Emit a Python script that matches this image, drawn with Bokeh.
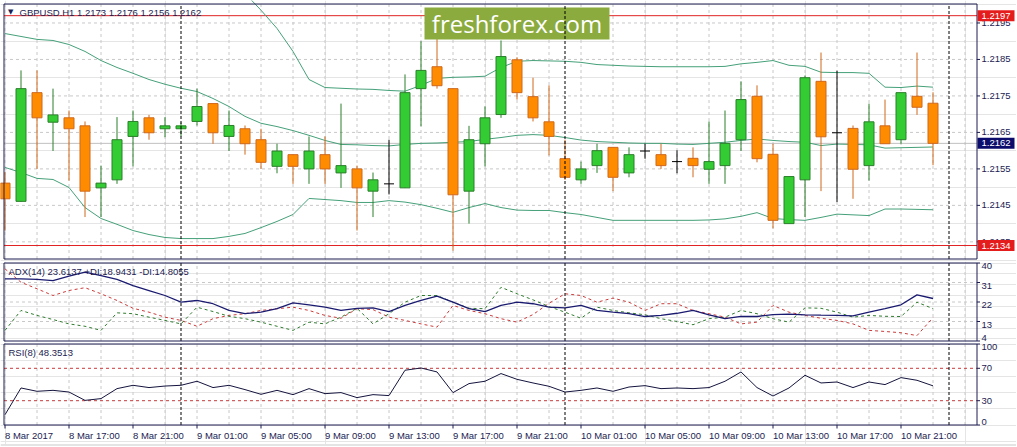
import pandas as pd
from bokeh.plotting import figure
from bokeh.layouts import column
from bokeh.models import Range1d, ColumnDataSource
from bokeh.core.properties import value
from bokeh.embed import file_html
from bokeh.resources import INLINE

# ---------------- data ----------------
symbol = "GBPUSD.H1"
first_bar_time = "2017-03-08 13:00"

opens = [1.21511, 1.21461, 1.21759, 1.21678, 1.21690, 1.21668, 1.21498, 1.21520, 1.21639, 1.21690,
         1.21660, 1.21660, 1.21680, 1.21729, 1.21639, 1.21660, 1.21630, 1.21557, 1.21589, 1.21550,
         1.21589, 1.21539, 1.21550, 1.21489, 1.21509, 1.21498, 1.21770, 1.21830, 1.21770, 1.21489,
         1.21619, 1.21699, 1.21849, 1.21748, 1.21679, 1.21578, 1.21520, 1.21559, 1.21609, 1.21539,
         1.21599, 1.21589, 1.21570, 1.21579, 1.21549, 1.21559, 1.21630, 1.21749, 1.21590, 1.21400,
         1.21520, 1.21790, 1.21649, 1.21661, 1.21559, 1.21668, 1.21630, 1.21749, 1.21730]
highs = [1.21541, 1.21820, 1.21820, 1.21770, 1.21710, 1.21680, 1.21559, 1.21692, 1.21710, 1.21698,
         1.21692, 1.21677, 1.21770, 1.21729, 1.21710, 1.21669, 1.21660, 1.21619, 1.21589, 1.21639,
         1.21639, 1.21729, 1.21559, 1.21540, 1.21630, 1.21809, 1.21900, 1.21908, 1.21770, 1.21668,
         1.21721, 1.21902, 1.21856, 1.21800, 1.21779, 1.21630, 1.21570, 1.21619, 1.21609, 1.21609,
         1.21619, 1.21619, 1.21601, 1.21609, 1.21680, 1.21710, 1.21790, 1.21779, 1.21619, 1.21529,
         1.21806, 1.21869, 1.21819, 1.21669, 1.21729, 1.21740, 1.21759, 1.21869, 1.21760]
lows = [1.21381, 1.21460, 1.21550, 1.21599, 1.21518, 1.21418, 1.21418, 1.21509, 1.21557, 1.21630,
        1.21637, 1.21639, 1.21669, 1.21619, 1.21599, 1.21589, 1.21550, 1.21538, 1.21509, 1.21509,
        1.21509, 1.21498, 1.21381, 1.21418, 1.21480, 1.21498, 1.21667, 1.21770, 1.21326, 1.21400,
        1.21557, 1.21690, 1.21740, 1.21680, 1.21587, 1.21520, 1.21509, 1.21539, 1.21489, 1.21527,
        1.21578, 1.21550, 1.21538, 1.21527, 1.21509, 1.21509, 1.21599, 1.21568, 1.21387, 1.21400,
        1.21418, 1.21489, 1.21459, 1.21468, 1.21518, 1.21619, 1.21619, 1.21698, 1.21560]
closes = [1.21468, 1.21770, 1.21690, 1.21698, 1.21660, 1.21489, 1.21511, 1.21630, 1.21680, 1.21649,
          1.21668, 1.21668, 1.21721, 1.21649, 1.21669, 1.21619, 1.21568, 1.21599, 1.21557, 1.21599,
          1.21550, 1.21559, 1.21498, 1.21520, 1.21509, 1.21759, 1.21820, 1.21778, 1.21479, 1.21630,
          1.21690, 1.21858, 1.21759, 1.21690, 1.21639, 1.21527, 1.21550, 1.21600, 1.21527, 1.21589,
          1.21599, 1.21559, 1.21570, 1.21559, 1.21570, 1.21620, 1.21740, 1.21578, 1.21409, 1.21529,
          1.21800, 1.21638, 1.21649, 1.21549, 1.21679, 1.21619, 1.21759, 1.21719, 1.21620]

bb_upper = [1.22289, 1.22289, 1.22286, 1.22284, 1.22284, 1.22300, 1.22281, 1.22259, 1.22242, 1.22220,
            1.22201, 1.22182, 1.22166, 1.22127, 1.22078, 1.22031, 1.21985, 1.21935, 1.21872, 1.21795,
            1.21773, 1.21771, 1.21769, 1.21768, 1.21765, 1.21763, 1.21779, 1.21798, 1.21801, 1.21802,
            1.21804, 1.21828, 1.21845, 1.21847, 1.21846, 1.21845, 1.21842, 1.21836, 1.21834, 1.21832,
            1.21831, 1.21830, 1.21830, 1.21830, 1.21830, 1.21831, 1.21838, 1.21842, 1.21847, 1.21834,
            1.21831, 1.21815, 1.21814, 1.21814, 1.21812, 1.21774, 1.21773, 1.21777, 1.21774]
bb_middle = [1.21921, 1.21913, 1.21905, 1.21902, 1.21891, 1.21872, 1.21847, 1.21828, 1.21812, 1.21795,
             1.21782, 1.21771, 1.21762, 1.21743, 1.21721, 1.21694, 1.21675, 1.21666, 1.21655, 1.21642,
             1.21628, 1.21617, 1.21616, 1.21614, 1.21613, 1.21617, 1.21620, 1.21621, 1.21623, 1.21625,
             1.21631, 1.21636, 1.21642, 1.21644, 1.21642, 1.21636, 1.21629, 1.21625, 1.21623, 1.21621,
             1.21620, 1.21620, 1.21618, 1.21617, 1.21620, 1.21623, 1.21628, 1.21632, 1.21628, 1.21625,
             1.21623, 1.21614, 1.21618, 1.21617, 1.21616, 1.21607, 1.21608, 1.21609, 1.21610]
bb_lower = [1.21554, 1.21540, 1.21524, 1.21521, 1.21499, 1.21444, 1.21414, 1.21398, 1.21381, 1.21370,
            1.21362, 1.21359, 1.21359, 1.21359, 1.21365, 1.21373, 1.21389, 1.21406, 1.21425, 1.21469,
            1.21466, 1.21463, 1.21458, 1.21458, 1.21463, 1.21459, 1.21452, 1.21442, 1.21431, 1.21444,
            1.21455, 1.21444, 1.21437, 1.21436, 1.21436, 1.21430, 1.21425, 1.21417, 1.21409, 1.21409,
            1.21409, 1.21409, 1.21409, 1.21409, 1.21410, 1.21413, 1.21420, 1.21430, 1.21414, 1.21411,
            1.21409, 1.21417, 1.21426, 1.21424, 1.21422, 1.21440, 1.21440, 1.21439, 1.21438]

adx = [32.7, 32.7, 32.4, 31.9, 33.9, 35.8, 34.2, 32.4, 29.6, 27.3,
       25.0, 21.9, 22.7, 21.2, 18.1, 16.6, 17.3, 18.9, 21.6, 20.7,
       19.6, 18.1, 19.1, 19.3, 17.6, 20.4, 22.7, 24.7, 21.9, 18.9,
       17.6, 20.4, 21.9, 21.2, 19.6, 19.3, 20.4, 18.1, 17.3, 16.6,
       15.3, 15.8, 16.8, 18.1, 16.1, 14.3, 15.4, 15.3, 16.2, 16.4,
       16.1, 15.9, 15.8, 15.6, 17.3, 18.9, 20.7, 25.3, 23.6137]
plus_di = [8.9, 18.1, 15.8, 13.9, 11.9, 10.8, 8.9, 17.0, 16.6, 15.0,
           13.5, 11.9, 19.6, 17.6, 15.4, 14.3, 12.7, 10.8, 8.9, 12.7,
           11.9, 15.0, 19.1, 11.9, 16.6, 21.9, 25.0, 25.0, 21.9, 19.1,
           18.9, 28.8, 25.8, 23.0, 19.9, 17.3, 14.5, 19.6, 18.1, 17.0,
           16.1, 14.3, 13.0, 11.5, 14.3, 15.0, 18.1, 16.6, 14.3, 12.7,
           19.3, 19.1, 17.3, 15.0, 15.8, 15.4, 15.3, 21.9, 18.9431]
minus_di = [37.3, 31.1, 28.1, 25.0, 27.3, 28.6, 25.8, 22.7, 19.1, 17.3,
            15.0, 13.5, 10.8, 14.3, 15.8, 16.6, 18.1, 18.9, 19.6, 18.1,
            15.8, 14.5, 18.9, 18.5, 15.0, 13.5, 11.9, 10.4, 20.4, 18.1,
            16.6, 14.3, 12.7, 16.2, 21.4, 25.8, 25.0, 21.9, 23.8, 21.9,
            18.1, 21.2, 21.2, 18.1, 16.6, 15.0, 11.9, 12.7, 20.4, 17.3,
            15.8, 14.5, 13.5, 11.9, 8.9, 8.4, 7.8, 6.5, 14.8055]
rsi = [12.7, 45.7, 41.6, 42.8, 40.7, 30.4, 32.6, 44.9, 49.0, 46.2,
       48.1, 49.0, 54.0, 46.2, 49.0, 43.7, 37.9, 42.8, 37.5, 44.9,
       38.7, 40.0, 33.8, 37.5, 36.3, 67.6, 70.4, 65.5, 40.0, 51.1,
       54.0, 63.5, 56.4, 51.9, 47.8, 40.7, 42.8, 45.7, 41.6, 46.9,
       48.6, 44.9, 45.7, 44.9, 46.2, 54.0, 65.5, 46.2, 35.8, 45.7,
       61.4, 51.9, 53.1, 46.2, 53.1, 49.9, 58.5, 55.2, 48.3513]

price_ticks = [1.2135, 1.2145, 1.2155, 1.2165, 1.2175, 1.2185, 1.2195]
price_box = (1.21303, 1.22002)
line_levels = [1.2197, 1.2134]
adx_ticks = [40, 31, 22, 13, 4]
rsi_ticks = [100, 70, 30, 0]
rsi_levels = [70, 30]
watermark = "freshforex.com"

# ---------------- style / layout ----------------
FONT = "Liberation Sans"
FS = "9.5px"
NAVY = "#1c1c52"
GRID = "#c8c8c8"
BB_COLOR = "#45a079"
BULL_FILL, BULL_LINE = "#33cc33", "#2b7f2b"
BEAR_FILL, BEAR_LINE = "#ff8c00", "#cf681c"
RED_LINE, RED_BOX = "#e02424", "#e51c1c"
W = 1016
BAR_PX = 16.0
X0_PX = 4.5
BODY_W = 10 / BAR_PX

n = len(opens)
xs = list(range(n))
times = pd.date_range(first_bar_time, periods=n + 1, freq="h")
separators = [i for i in range(n + 1) if times[i].hour == 0]
grid_x = list(range(0, n + 2, 2))
label_x = list(range(0, n, 4))

x_range = Range1d(-X0_PX / BAR_PX, (W - X0_PX) / BAR_PX)


def xd(px):
    return (px - X0_PX) / BAR_PX


chart_left = xd(3.5)
chart_right = xd(976.5)
tick_len = 3 / BAR_PX
axis_label_x = xd(981)


def make_panel(H, top_edge, bottom_edge, lo, hi):
    scale = (hi - lo) / (bottom_edge - top_edge)
    y_range = Range1d(lo - (H - bottom_edge) * scale, hi + top_edge * scale)
    p = figure(frame_width=W, frame_height=H, x_range=x_range, y_range=y_range,
               output_backend="svg", toolbar_location=None,
               x_axis_location=None, y_axis_location=None, min_border=0,
               outline_line_color=None, background_fill_color="white",
               border_fill_color="white")

    def yd(px):
        return hi + (top_edge - px) * scale

    k = len(grid_x)
    p.segment(x0=grid_x, y0=[lo] * k, x1=grid_x, y1=[hi] * k,
              line_color=GRID, line_dash="3 3", line_width=1)
    return p, yd, scale


def hgrid(p, ticks):
    k = len(ticks)
    p.segment(x0=[chart_left] * k, y0=ticks, x1=[chart_right] * k, y1=ticks,
              line_color=GRID, line_dash="3 3", line_width=1)


def separators_and_frame(p, lo, hi):
    k = len(separators)
    p.segment(x0=separators, y0=[lo] * k, x1=separators, y1=[hi] * k,
              line_color="black", line_dash="3 2", line_width=1)
    p.quad(left=[chart_left], right=[chart_right], bottom=[lo], top=[hi],
           fill_color=None, line_color=NAVY, line_width=1)


def right_ticks(p, ticks, labels, baselines):
    k = len(ticks)
    p.segment(x0=[chart_right] * k, y0=ticks, x1=[chart_right + tick_len] * k, y1=ticks,
              line_color=NAVY, line_width=1)
    for t, lab, b in zip(ticks, labels, baselines):
        p.text(x=[axis_label_x], y=[t], text=[lab], text_font=value(FONT),
               text_font_size=FS, text_color=NAVY, text_align="left", text_baseline=b)


def header(p, x_px, y, text):
    p.text(x=[xd(x_px)], y=[y], text=[text], text_font=value(FONT), text_font_size=FS,
           text_color=NAVY, text_align="left", text_baseline="middle")


# ---------------- main price panel ----------------
lo_p, hi_p = price_box
main, yd_main, _ = make_panel(261, 3.5, 258.5, lo_p, hi_p)
hgrid(main, price_ticks)

main.segment(x0=[chart_left], y0=[closes[-1]], x1=[chart_right], y1=[closes[-1]],
             line_color="#c0c0c0", line_width=1)
k = len(line_levels)
main.segment(x0=[chart_left] * k, y0=line_levels, x1=[chart_right] * k, y1=line_levels,
             line_color=RED_LINE, line_width=1)

main.line(xs, bb_upper, line_color=BB_COLOR, line_width=1)
main.line(xs, bb_middle, line_color=BB_COLOR, line_width=1)
main.line(xs, bb_lower, line_color=BB_COLOR, line_width=1)


def candle_source(ids):
    return ColumnDataSource(dict(
        x=ids,
        high=[highs[i] for i in ids], low=[lows[i] for i in ids],
        top=[max(opens[i], closes[i]) for i in ids],
        bottom=[min(opens[i], closes[i]) for i in ids],
        x0=[i - BODY_W / 2 for i in ids], x1=[i + BODY_W / 2 for i in ids],
        mid=[opens[i] for i in ids]))


up = candle_source([i for i in xs if closes[i] > opens[i]])
dn = candle_source([i for i in xs if closes[i] < opens[i]])
dj = candle_source([i for i in xs if closes[i] == opens[i]])

main.segment("x", "high", "x", "low", source=up, line_color=BULL_LINE, line_width=1)
main.segment("x", "high", "x", "low", source=dn, line_color=BEAR_LINE, line_width=1)
main.segment("x", "high", "x", "low", source=dj, line_color="black", line_width=1)
main.vbar(x="x", width=BODY_W, top="top", bottom="bottom", source=up,
          fill_color=BULL_FILL, line_color=BULL_LINE, line_width=1)
main.vbar(x="x", width=BODY_W, top="top", bottom="bottom", source=dn,
          fill_color=BEAR_FILL, line_color=BEAR_LINE, line_width=1)
main.segment("x0", "mid", "x1", "mid", source=dj, line_color="black", line_width=1)

# watermark
main.rect(x=[xd(516.5)], y=[yd_main(23)], width=185, height=32, width_units="screen",
          height_units="screen", fill_color="#8bab3e", line_color=None)
main.text(x=[xd(516.5)], y=[yd_main(23)], text=[watermark], text_font=value("Open Sans"),
          text_font_size="24px", text_color="white", text_align="center",
          text_baseline="middle")

separators_and_frame(main, lo_p, hi_p)
right_ticks(main, price_ticks, [f"{t:.4f}" for t in price_ticks], ["middle"] * len(price_ticks))

# price boxes on the axis
box_specs = [(lv, RED_BOX) for lv in line_levels] + [(closes[-1], "#0c0c6c")]
for lv, col in box_specs:
    main.rect(x=[xd(995.5)], y=[lv], width=37, height=11, width_units="screen",
              height_units="screen", fill_color=col, line_color=None)
    main.text(x=[axis_label_x], y=[lv], text=[f"{lv:.4f}"], text_font=value(FONT),
              text_font_size=FS, text_color="white", text_align="left",
              text_baseline="middle")

main.text(x=[xd(7.5)], y=[yd_main(11.5)], text=["\u25bc"], text_font=value("DejaVu Sans"),
          text_font_size="7px", text_color=NAVY, text_align="left", text_baseline="middle")
header(main, 19, yd_main(12),
       f"{symbol}  {opens[-1]:.4f} {highs[-1]:.4f} {lows[-1]:.4f} {closes[-1]:.4f}")

# ---------------- ADX panel ----------------
lo_a, hi_a = min(adx_ticks), max(adx_ticks)
adx_fig, yd_adx, _ = make_panel(81, 1.5, 79.5, lo_a, hi_a)
hgrid(adx_fig, adx_ticks[1:-1])
adx_fig.line(xs, minus_di, line_color="#cc3b3b", line_dash="3 3", line_width=1)
adx_fig.line(xs, plus_di, line_color="#2f7b2f", line_dash="3 3", line_width=1)
adx_fig.line(xs, adx, line_color="#1a1a70", line_width=1.3)
separators_and_frame(adx_fig, lo_a, hi_a)
right_ticks(adx_fig, adx_ticks, [str(t) for t in adx_ticks],
            ["bottom" if t == lo_a else "top" for t in adx_ticks])
header(adx_fig, 8, yd_adx(10),
       f"ADX(14) {adx[-1]:.4f} +DI:{plus_di[-1]:.4f} -DI:{minus_di[-1]:.4f}")

# ---------------- RSI panel ----------------
lo_r, hi_r = min(rsi_ticks), max(rsi_ticks)
rsi_fig, yd_rsi, rsi_scale = make_panel(104, 1.5, 82.5, lo_r, hi_r)
k = len(rsi_levels)
rsi_fig.segment(x0=[chart_left] * k, y0=rsi_levels, x1=[chart_right] * k, y1=rsi_levels,
                line_color="#c83a3a", line_dash="3 3", line_width=1)
rsi_fig.line(xs, rsi, line_color="#14143e", line_width=1)
separators_and_frame(rsi_fig, lo_r, hi_r)
right_ticks(rsi_fig, rsi_ticks, [str(t) for t in rsi_ticks],
            ["top" if t == hi_r else ("bottom" if t == lo_r else "middle") for t in rsi_ticks])
header(rsi_fig, 8, yd_rsi(10), f"RSI(8) {rsi[-1]:.4f}")

# time axis
k = len(label_x)
rsi_fig.segment(x0=label_x, y0=[lo_r] * k, x1=label_x, y1=[lo_r - 3.5 * rsi_scale] * k,
                line_color=NAVY, line_width=1)
time_labels = [f"{times[i].day} {times[i]:%b %Y}" if j == 0 else f"{times[i].day} {times[i]:%b %H:%M}"
               for j, i in enumerate(label_x)]
rsi_fig.text(x=label_x, y=[lo_r - 4.5 * rsi_scale] * k, text=time_labels,
             text_font=value(FONT), text_font_size=FS, text_color=NAVY,
             text_align="left", text_baseline="top")

# window edge strip at the bottom
rsi_fig.quad(left=[x_range.start], right=[x_range.end], bottom=[yd_rsi(104)],
             top=[yd_rsi(101.5)], fill_color="#e4e4e4", line_color=None)

layout = column(main, adx_fig, rsi_fig, spacing=0)
open("out.html", "w").write(file_html(layout, INLINE))
